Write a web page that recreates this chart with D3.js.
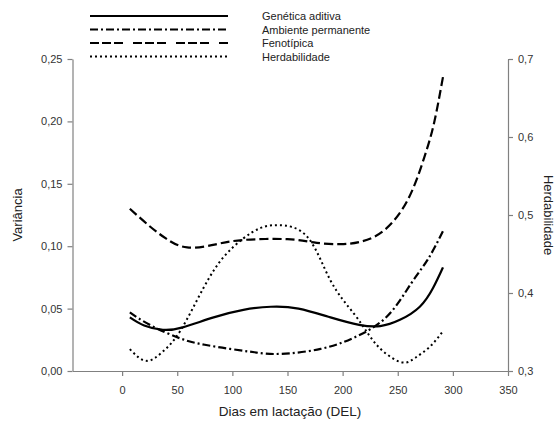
<!DOCTYPE html>
<html>
<head>
<meta charset="utf-8">
<script src="https://cdn.jsdelivr.net/npm/d3@7"></script>
<style>
  body { margin: 0; background: #fff; }
  text { font-family: "Liberation Sans", Arial, sans-serif; }
</style>
</head>
<body>
<div class="chart"></div>
<script>
// chart size
const WIDTH = 558;
const HEIGHT = 423;

// data
const diasGenetica = [7, 20, 37, 55, 83, 110, 135, 160, 189, 215, 234, 252, 270, 282, 291];
const genetica = [0.043, 0.0365, 0.033, 0.035, 0.043, 0.049, 0.0515, 0.050, 0.043, 0.037, 0.036, 0.041, 0.0515, 0.0665, 0.083];

const diasAmbiente = [7, 25, 53, 75, 98, 120, 144, 180, 210, 240, 262, 277, 291];
const ambiente = [0.047, 0.037, 0.026, 0.021, 0.0177, 0.015, 0.0137, 0.0177, 0.0266, 0.0435, 0.070, 0.089, 0.112];

const diasFenotipica = [7, 25, 40, 59, 85, 110, 150, 174, 198, 218, 238, 259, 274, 283, 291];
const fenotipica = [0.13, 0.116, 0.106, 0.099, 0.1015, 0.105, 0.1056, 0.103, 0.1016, 0.104, 0.113, 0.137, 0.171, 0.199, 0.2355];

const diasHerd = [7, 22, 37, 53, 74, 92, 110, 125, 142, 168, 189, 210, 224, 237, 254, 266, 279, 291];
const herdabilidade = [0.328, 0.313, 0.325, 0.352, 0.407, 0.446, 0.470, 0.483, 0.487, 0.472, 0.416, 0.374, 0.346, 0.325, 0.311, 0.317, 0.331, 0.351];

const xTicks = [0, 50, 100, 150, 200, 250, 300, 350];
const yLeftTicks = [0, 0.05, 0.10, 0.15, 0.20, 0.25];
const yRightTicks = [0.3, 0.4, 0.5, 0.6, 0.7];

const legendNames = ["Genética aditiva", "Ambiente permanente", "Fenotípica", "Herdabilidade"];

const LOCALE = d3.formatLocale({ decimal: ",", thousands: ".", grouping: [3], currency: ["", ""] });

const SVG = d3.select(".chart").append("svg")
  .attr("width", WIDTH)
  .attr("height", HEIGHT);

const X = d3.scaleLinear().domain([-45, 350]).range([72.5, 508]);
const YL = d3.scaleLinear().domain([0, 0.25]).range([371, 59]);
const YR = d3.scaleLinear().domain([0.3, 0.7]).range([371, 59]);

// styles for each series
const styles = [
  { dash: null, width: 2.2 },
  { dash: "8,3,2,3", width: 2.2 },
  { dash: "9,4", width: 2.2 },
  { dash: "2,3", width: 2 }
];

function styleAxis(g) {
  g.selectAll("path, line").attr("stroke", "#808080").attr("stroke-width", 1.2);
  g.selectAll("text").attr("fill", "#333").style("font-size", "11px");
}

// axes
SVG.append("g")
  .attr("transform", "translate(0,371)")
  .call(d3.axisBottom(X).tickValues(xTicks).tickSizeInner(5).tickSizeOuter(0).tickPadding(10))
  .call(styleAxis);

SVG.append("g")
  .attr("transform", "translate(72.5,0)")
  .call(d3.axisLeft(YL).tickValues(yLeftTicks).tickFormat(LOCALE.format(".2f")).tickSizeInner(5).tickSizeOuter(0).tickPadding(5))
  .call(styleAxis);

SVG.append("g")
  .attr("transform", "translate(508,0)")
  .call(d3.axisRight(YR).tickValues(yRightTicks).tickFormat(LOCALE.format(".1f")).tickSizeInner(5).tickSizeOuter(0).tickPadding(5))
  .call(styleAxis);

// axis titles
SVG.append("text")
  .attr("transform", "translate(22,215) rotate(-90)")
  .attr("text-anchor", "middle")
  .attr("fill", "#222")
  .style("font-size", "13px")
  .text("Variância");

SVG.append("text")
  .attr("transform", "translate(544,215) rotate(90)")
  .attr("text-anchor", "middle")
  .attr("fill", "#222")
  .style("font-size", "13px")
  .text("Herdabilidade");

SVG.append("text")
  .attr("x", 290)
  .attr("y", 416)
  .attr("text-anchor", "middle")
  .attr("fill", "#222")
  .style("font-size", "13.5px")
  .text("Dias em lactação (DEL)");

// lines
const series = [
  { xs: diasGenetica, ys: genetica, y: YL },
  { xs: diasAmbiente, ys: ambiente, y: YL },
  { xs: diasFenotipica, ys: fenotipica, y: YL },
  { xs: diasHerd, ys: herdabilidade, y: YR }
];

series.forEach((s, i) => {
  const line = d3.line()
    .x((d) => X(d[0]))
    .y((d) => s.y(d[1]))
    .curve(d3.curveNatural);
  SVG.append("path")
    .datum(s.xs.map((v, j) => [v, s.ys[j]]))
    .attr("fill", "none")
    .attr("stroke", "#000")
    .attr("stroke-width", styles[i].width)
    .attr("stroke-dasharray", styles[i].dash)
    .attr("d", line);
});

// legend
const LEG = SVG.append("g");
legendNames.forEach((name, i) => {
  const y = 16 + i * 13.5;
  LEG.append("line")
    .attr("x1", 90).attr("x2", 228)
    .attr("y1", y).attr("y2", y)
    .attr("stroke", "#000")
    .attr("stroke-width", styles[i].width)
    .attr("stroke-dasharray", i === 2 ? "9,3,9,3,9,10" : styles[i].dash);
  LEG.append("text")
    .attr("x", 262)
    .attr("y", y + 4)
    .attr("fill", "#222")
    .style("font-size", "11px")
    .text(name);
});
</script>
</body>
</html>
